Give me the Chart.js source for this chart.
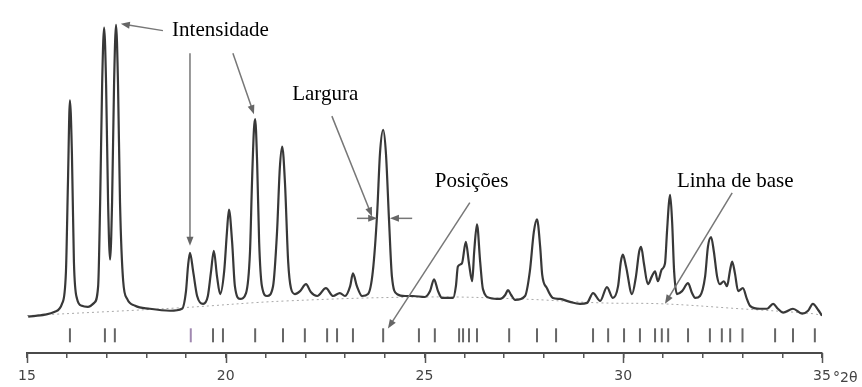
<!DOCTYPE html>
<html>
<head>
<meta charset="utf-8">
<script src="https://cdn.jsdelivr.net/npm/chart.js@4.4.1/dist/chart.umd.min.js"></script>
<style>
  html, body { margin: 0; padding: 0; background: #fff; }
  canvas { display: block; }
</style>
</head>
<body>
<canvas id="difratograma" width="862" height="387"></canvas>
<script>
// difratograma (2θ em graus, intensidade em unidades arbitrarias)
var twoTheta = [
  15.03, 15.45, 15.70, 15.88, 15.98, 16.03, 16.08, 16.13, 16.18, 16.26,
  16.38, 16.53, 16.69, 16.79, 16.84, 16.89, 16.94, 16.99, 17.04, 17.09,
  17.14, 17.19, 17.24, 17.29, 17.34, 17.42, 17.52, 17.72, 18.09, 18.60,
  18.90, 19.00, 19.05, 19.10, 19.18, 19.28, 19.43, 19.55, 19.63, 19.70,
  19.78, 19.86, 19.96, 20.03, 20.08, 20.16, 20.23, 20.36, 20.51, 20.61,
  20.66, 20.71, 20.74, 20.79, 20.84, 20.91, 21.04, 21.19, 21.29, 21.36,
  21.42, 21.49, 21.57, 21.64, 21.74, 21.87, 22.02, 22.14, 22.30, 22.52,
  22.70, 22.87, 23.00, 23.13, 23.20, 23.30, 23.43, 23.58, 23.70, 23.81,
  23.88, 23.96, 24.03, 24.11, 24.18, 24.31, 24.51, 24.71, 25.01, 25.14,
  25.24, 25.34, 25.44, 25.72, 25.79, 25.84, 25.94, 26.04, 26.12, 26.20,
  26.25, 26.32, 26.40, 26.47, 26.65, 26.90, 27.03, 27.10, 27.18, 27.28,
  27.53, 27.65, 27.75, 27.83, 27.91, 27.96, 28.08, 28.23, 28.41, 28.66,
  28.91, 29.09, 29.24, 29.42, 29.59, 29.74, 29.87, 29.94, 29.99, 30.07,
  30.22, 30.32, 30.40, 30.45, 30.52, 30.62, 30.72, 30.80, 30.87, 30.97,
  31.05, 31.10, 31.15, 31.18, 31.23, 31.28, 31.35, 31.48, 31.63, 31.73,
  31.81, 31.93, 32.06, 32.13, 32.21, 32.28, 32.36, 32.43, 32.53, 32.61,
  32.69, 32.74, 32.81, 32.89, 33.01, 33.11, 33.19, 33.44, 33.62, 33.77,
  33.89, 34.02, 34.27, 34.50, 34.65, 34.77, 34.90, 35.00
];
var intensity = [
  37, 39, 42, 50, 83, 173, 257, 203, 93, 55,
  48, 47, 51, 68, 153, 273, 331, 273, 153, 95,
  153, 273, 334, 273, 153, 73, 55, 48, 45, 43,
  45, 63, 88, 102, 83, 58, 50, 58, 83, 104,
  78, 60, 83, 123, 146, 113, 68, 55, 61, 103,
  173, 228, 238, 193, 113, 68, 58, 68, 123, 188,
  210, 173, 93, 66, 60, 63, 70, 62, 58, 66,
  58, 61, 58, 68, 81, 68, 58, 60, 83, 143,
  203, 227, 203, 133, 78, 60, 58, 58, 57, 63,
  75, 63, 56, 56, 68, 88, 91, 113, 91, 73,
  103, 131, 93, 65, 56, 55, 59, 64, 59, 54,
  58, 83, 123, 136, 108, 80, 66, 56, 55, 52,
  50, 51, 61, 53, 67, 56, 68, 93, 100, 88,
  60, 78, 103, 108, 91, 70, 78, 83, 73, 85,
  91, 123, 153, 161, 133, 83, 60, 63, 71, 61,
  56, 58, 78, 108, 118, 103, 78, 70, 73, 68,
  85, 93, 81, 63, 66, 55, 48, 45, 45, 50,
  45, 41, 45, 40, 43, 50, 44, 38
];
// linha de base (pontilhada)
var baseTheta = [15.0, 18.85, 21.54, 25.14, 27.40, 29.42, 31.00, 32.94, 34.77, 35.0];
var baseIntensity = [38, 46, 53, 57, 55, 51, 50, 45, 40, 38];
// posicoes dos picos (tracos abaixo do difratograma)
var peakPositions = [
  16.08, 16.96, 17.21, 19.12, 19.68, 19.93, 20.74, 21.44, 21.99, 22.55,
  22.80, 23.20, 23.96, 24.86, 25.26, 25.87, 25.97, 26.12, 26.32, 27.13,
  27.83, 28.31, 29.24, 29.62, 30.02, 30.42, 30.80, 30.97, 31.13, 31.63,
  32.18, 32.48, 32.69, 33.00, 33.82, 34.27, 34.82
];
var majorTicks = [15, 20, 25, 30, 35];

var positionRow = 18;

function pairs(xs, ys) {
  return xs.map(function (x, i) { return { x: x, y: ys[i] }; });
}

var notes = [
  { text: 'Intensidade', x: 18.65, y: 328 },
  { text: 'Largura', x: 21.67, y: 263 },
  { text: 'Posições', x: 25.26, y: 175 },
  { text: 'Linha de base', x: 31.35, y: 175 }
];
var arrows = [
  { from: [18.42, 328], to: [17.36, 335] },
  { from: [19.10, 305], to: [19.10, 109] },
  { from: [20.18, 305], to: [20.71, 243] },
  { from: [22.67, 241], to: [23.68, 139] },
  { from: [23.30, 137], to: [23.81, 137] },
  { from: [24.69, 137], to: [24.13, 137] },
  { from: [26.14, 153], to: [24.08, 25] },
  { from: [32.74, 163], to: [31.05, 50] }
];

var notesPlugin = {
  id: 'notes',
  afterDatasetsDraw: function (chart) {
    var c = chart.ctx, xs = chart.scales.x, ys = chart.scales.y;
    var bottom = chart.chartArea.bottom;
    c.save();
    // marcas maiores do eixo
    c.strokeStyle = '#555';
    c.lineWidth = 1.5;
    majorTicks.forEach(function (v) {
      var px = Math.round(xs.getPixelForValue(v)) + 0.5;
      c.beginPath();
      c.moveTo(px, bottom);
      c.lineTo(px, bottom + 10);
      c.stroke();
    });
    // setas
    c.strokeStyle = '#777';
    c.fillStyle = '#666';
    c.lineWidth = 1.5;
    arrows.forEach(function (a) {
      var x1 = xs.getPixelForValue(a.from[0]), y1 = ys.getPixelForValue(a.from[1]);
      var x2 = xs.getPixelForValue(a.to[0]), y2 = ys.getPixelForValue(a.to[1]);
      var ang = Math.atan2(y2 - y1, x2 - x1);
      var cs = Math.cos(ang), sn = Math.sin(ang);
      c.beginPath();
      c.moveTo(x1, y1);
      c.lineTo(x2 - 6 * cs, y2 - 6 * sn);
      c.stroke();
      c.beginPath();
      c.moveTo(x2, y2);
      c.lineTo(x2 - 9 * cs + 3.5 * sn, y2 - 9 * sn - 3.5 * cs);
      c.lineTo(x2 - 9 * cs - 3.5 * sn, y2 - 9 * sn + 3.5 * cs);
      c.closePath();
      c.fill();
    });
    // textos
    c.fillStyle = '#000';
    c.font = '21px "Liberation Serif", "Times New Roman", serif';
    c.textBaseline = 'middle';
    c.textAlign = 'left';
    notes.forEach(function (n) {
      c.fillText(n.text, xs.getPixelForValue(n.x), ys.getPixelForValue(n.y));
    });
    // unidade depois do ultimo rotulo
    c.fillStyle = '#444';
    c.font = '14px "DejaVu Sans", sans-serif';
    c.fillText('°2θ', xs.getPixelForValue(35) + 11, bottom + 25);
    c.restore();
  }
};

var ctx = document.getElementById('difratograma').getContext('2d');
var chart = new Chart(ctx, {
  type: 'scatter',
  data: {
    datasets: [
      {
        data: pairs(twoTheta, intensity),
        showLine: true,
        borderColor: '#383838',
        borderWidth: 2.2,
        pointRadius: 0,
        cubicInterpolationMode: 'monotone',
        order: 1
      },
      {
        data: pairs(baseTheta, baseIntensity),
        showLine: true,
        borderColor: '#a8a8a8',
        borderWidth: 1,
        borderDash: [2, 3],
        pointRadius: 0,
        tension: 0.4,
        order: 2
      },
      {
        data: peakPositions.map(function (p) { return { x: p, y: positionRow }; }),
        showLine: false,
        pointStyle: 'line',
        rotation: 90,
        pointRadius: 7,
        pointBorderWidth: 2,
        pointBorderColor: peakPositions.map(function (p, i) { return i === 3 ? '#a088b0' : '#666'; }),
        order: 0
      }
    ]
  },
  options: {
    responsive: false,
    animation: false,
    devicePixelRatio: 1,
    layout: { padding: { left: 27, right: 40, top: 3, bottom: 0 } },
    plugins: {
      legend: { display: false },
      tooltip: { enabled: false }
    },
    scales: {
      x: {
        type: 'linear',
        min: 15,
        max: 35,
        afterFit: function (s) { s.height = 34; },
        ticks: {
          stepSize: 1,
          autoSkip: false,
          maxRotation: 0,
          padding: 10,
          color: '#444',
          font: { family: '"DejaVu Sans", sans-serif', size: 14 },
          callback: function (v) { return v % 5 === 0 ? String(v) : ''; }
        },
        grid: {
          drawOnChartArea: false,
          drawTicks: true,
          tickLength: 5,
          color: '#555',
          lineWidth: 1.5
        },
        border: { display: true, color: '#4a4a4a', width: 2 }
      },
      y: {
        display: false,
        min: 0,
        max: 350
      }
    }
  },
  plugins: [notesPlugin]
});
</script>
</body>
</html>
